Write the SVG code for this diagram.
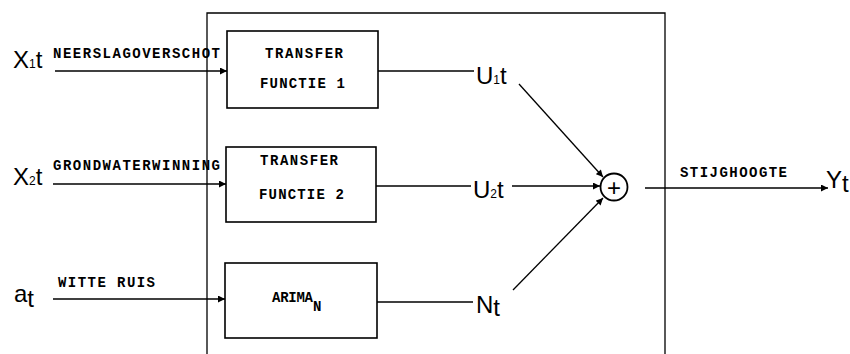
<svg xmlns="http://www.w3.org/2000/svg" width="850" height="354" viewBox="0 0 850 354">
<defs>
<marker id="ah" viewBox="0 0 10 10" refX="10" refY="5" markerWidth="8" markerHeight="7" markerUnits="userSpaceOnUse" orient="auto">
<path d="M0,0 L10,5 L0,10 z" fill="#000"/>
</marker>
<style>
.ln{stroke:#000;stroke-width:1.3;fill:none}
.box{stroke:#000;stroke-width:1.6;fill:#fff}
.lbl{font-family:"Liberation Mono","Courier New",monospace;font-weight:bold;font-size:14px;fill:#000}
.var{font-family:"Liberation Sans",Arial,sans-serif;font-size:24px;fill:#000}
.sub{font-size:12px}
</style>
</defs>
<rect width="850" height="354" fill="#fff"/>
<path id="frame" class="ln" d="M207,354 V13 H665 V354" stroke-width="1.6"/>
<g id="connectors">
<line class="ln" x1="55" y1="71" x2="227" y2="71" marker-end="url(#ah)"/>
<line class="ln" x1="53" y1="184" x2="226" y2="184" marker-end="url(#ah)"/>
<line class="ln" x1="53" y1="299" x2="225" y2="299" marker-end="url(#ah)"/>
<line class="ln" x1="378" y1="71" x2="474" y2="71"/>
<line class="ln" x1="376" y1="186" x2="471" y2="186"/>
<line class="ln" x1="377" y1="302" x2="473" y2="302"/>
<line class="ln" x1="512" y1="186" x2="600" y2="186" marker-end="url(#ah)"/>
<line class="ln" x1="519" y1="84" x2="603" y2="177" marker-end="url(#ah)"/>
<line class="ln" x1="513" y1="290" x2="603" y2="198" marker-end="url(#ah)"/>
<line class="ln" x1="645" y1="188" x2="828" y2="188" marker-end="url(#ah)"/>
</g>
<g id="input1">
<text class="var" x="13" y="68">X<tspan class="sub">1</tspan>t</text>
<text class="lbl" x="53" y="58" textLength="167" lengthAdjust="spacing">NEERSLAGOVERSCHOT</text>
</g>
<g id="input2">
<text class="var" x="13" y="185">X<tspan class="sub">2</tspan>t</text>
<text class="lbl" x="53" y="170" textLength="167" lengthAdjust="spacing">GRONDWATERWINNING</text>
</g>
<g id="input3">
<text class="var" x="14" y="302">a<tspan dy="5">t</tspan></text>
<text class="lbl" x="58" y="287" textLength="97" lengthAdjust="spacing">WITTE RUIS</text>
</g>
<g id="tf1">
<rect class="box" x="227" y="31" width="151" height="77"/>
<text class="lbl" x="265" y="58" textLength="78" lengthAdjust="spacing">TRANSFER</text>
<text class="lbl" x="260" y="88" textLength="85" lengthAdjust="spacing">FUNCTIE 1</text>
</g>
<g id="tf2">
<rect class="box" x="226" y="147" width="150" height="75"/>
<text class="lbl" x="260" y="165" textLength="78" lengthAdjust="spacing">TRANSFER</text>
<text class="lbl" x="259" y="199" textLength="85" lengthAdjust="spacing">FUNCTIE 2</text>
</g>
<g id="arima">
<rect class="box" x="225" y="263" width="152" height="75"/>
<text class="lbl" x="272" y="302" font-size="12" textLength="41" lengthAdjust="spacing">ARIMA</text>
<text class="lbl" x="313" y="311" font-size="12">N</text>
</g>
<g id="u1"><text class="var" x="476" y="84">U<tspan class="sub">1</tspan>t</text></g>
<g id="u2"><text class="var" x="473" y="198">U<tspan class="sub">2</tspan>t</text></g>
<g id="nt"><text class="var" x="476" y="313">N<tspan dy="3">t</tspan></text></g>
<g id="sum">
<circle cx="614" cy="187" r="13.5" fill="#fff" stroke="#000" stroke-width="1.8"/>
<text x="614" y="195.5" text-anchor="middle" font-family="Liberation Sans, Arial, sans-serif" font-size="24">+</text>
</g>
<g id="output">
<text class="lbl" x="680" y="177" textLength="107" lengthAdjust="spacing">STIJGHOOGTE</text>
<text class="var" x="826" y="188">Y<tspan dy="4">t</tspan></text>
</g>
</svg>
